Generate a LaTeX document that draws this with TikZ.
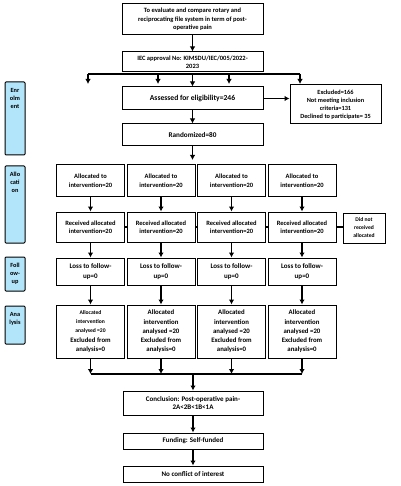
\documentclass[tikz,border=0pt]{standalone}
\usepackage{fontspec}
\setmainfont{Carlito}
\usetikzlibrary{arrows.meta, positioning}
\definecolor{phaseblue}{RGB}{178, 228, 250}
\newcommand{\fs}[1]{\fontsize{#1}{#1}\selectfont}

\begin{document}
\begin{tikzpicture}[x=1pt, y=1pt,
  box/.style={draw, line width=1pt, align=center, inner sep=1pt, font=\bfseries\fontsize{6.5}{8.5}\selectfont},
  phase/.style={draw, line width=1pt, rounded corners=1pt, fill=phaseblue, minimum width=20},
  phasetext/.style={anchor=north, yshift=-3, align=center, font=\bfseries\fontsize{6.3}{8}\selectfont},
  arr/.style={line width=1.2pt, -{Latex[length=5pt, width=5.5pt]}},
  ln/.style={line width=1.2pt}]
  \useasboundingbox (0,0) rectangle (400,-486);

  % main column
  \node[box, minimum width=141, minimum height=31] (aim) at (192.5,-19.5) {To evaluate and compare rotary and\\reciprocating file system in term of post-\\operative pain};
  \node[box, minimum width=141, minimum height=20] (iec) at (192.5,-62) {IEC approval No: KIMSDU/IEC/005/2022-\\2023};
  \node[box, minimum width=141, minimum height=23, font=\bfseries\fs{7.6}] (assess) at (192.5,-98.5) {Assessed for eligibility=246};
  \node[box, minimum width=91, minimum height=39, font=\bfseries\fontsize{6.3}{8}\selectfont] (excl) at (335.5,-104.5) {Excluded=166\\Not meeting inclusion\\criteria=131\\Declined to participate= 35};
  \node[box, minimum width=141, minimum height=22, font=\bfseries\fs{7.2}] (rand) at (192.5,-135) {Randomized=80};

  % phases on the left
  \node[phase, minimum height=73, label={[phasetext]north:{Enr\\olm\\ent}}] (enrol) at (15,-118.5) {};
  \node[phase, minimum height=77, label={[phasetext]north:{Allo\\cati\\on}}] (allocph) at (15,-204.5) {};
  \node[phase, minimum height=34, label={[phasetext]north:{Foll\\ow-\\up}}] (follow) at (15,-274) {};
  \node[phase, minimum height=38, label={[phasetext]north:{Ana\\lysis}}] (analph) at (15,-325) {};

  % four arms
  \foreach \i/\x in {1/90.5, 2/161, 3/231.5, 4/302} {
    \node[box, minimum width=68, minimum height=31] (alloc\i) at (\x,-180.5) {Allocated to\\intervention=20};
    \node[box, minimum width=68, minimum height=30] (recv\i) at (\x,-227) {Received allocated\\intervention=20};
    \node[box, minimum width=68, minimum height=27, font=\bfseries\fontsize{7}{9.5}\selectfont] (loss\i) at (\x,-271.5) {Loss to follow-\\up=0};
    \coordinate (join\i) at (\x,-374);
  }
  \node[box, minimum width=68, minimum height=53, font=\bfseries\fontsize{6.8}{9.3}\selectfont] (anal1) at (90.5,-331.5)
    {\fs{5.6}Allocated\\\fs{5.6}intervention\\\fs{5.6}analysed =20\\\fs{6.8}Excluded from\\\fs{6.8}analysis=0};
  \foreach \i/\x in {2/161, 3/231.5, 4/302}
    \node[box, minimum width=68, minimum height=53, font=\bfseries\fontsize{6.8}{9.3}\selectfont] (anal\i) at (\x,-331.5) {Allocated\\intervention\\analysed =20\\Excluded from\\analysis=0};
  \node[box, minimum width=42, minimum height=30, font=\bfseries\fontsize{5.6}{8}\selectfont] (didnot) at (364,-228) {Did not\\received\\allocated};

  % bottom column
  \node[box, minimum width=140, minimum height=24, font=\bfseries\fontsize{7}{8.5}\selectfont] (concl) at (193,-403) {Conclusion: Post-operative pain-\\2A\textless2B\textless1B\textless1A};
  \node[box, minimum width=140, minimum height=16, font=\bfseries\fs{7}] (fund) at (193,-441) {Funding: Self-funded};
  \node[box, minimum width=140, minimum height=16, font=\bfseries\fs{7}] (coi) at (193,-474) {No conflict of interest};

  % connectors
  \draw[arr] (aim) -- (iec);
  \foreach \n/\x in {1/88, 2/158, 4/229, 5/300} {
    \coordinate (top\n) at (\x,-74);
    \coordinate (tip\n) at (\x,-84);
    \draw[arr] (top\n) -- (tip\n);
  }
  \draw[ln] (top1) -- (top5);
  \draw[arr] (assess.north |- top1) -- (assess.north);
  \draw[arr] (assess.east) -- (excl.west |- assess.east);
  \draw[arr] (assess) -- (rand);
  \coordinate (randtip) at (192.5,-160);
  \draw[arr] (rand) -- (randtip);
  \foreach \i in {1,2,3,4} {
    \draw[arr] (alloc\i) -- (recv\i);
    \draw[arr] (recv\i) -- (loss\i);
    \draw[arr] (loss\i) -- (anal\i);
    \draw[arr] (anal\i) -- (join\i);
  }
  \foreach \i/\j in {1/2, 2/3, 3/4}
    \draw[ln] (recv\i) -- (recv\j);
  \draw[ln] (recv4.east) -- (didnot.west |- recv4.east);
  \draw[ln] (join1) -- (join4);
  \draw[arr] (concl.north |- join1) -- (concl.north);
  \draw[arr] (concl) -- (fund);
  \draw[arr] (fund) -- (coi);
\end{tikzpicture}
\end{document}
